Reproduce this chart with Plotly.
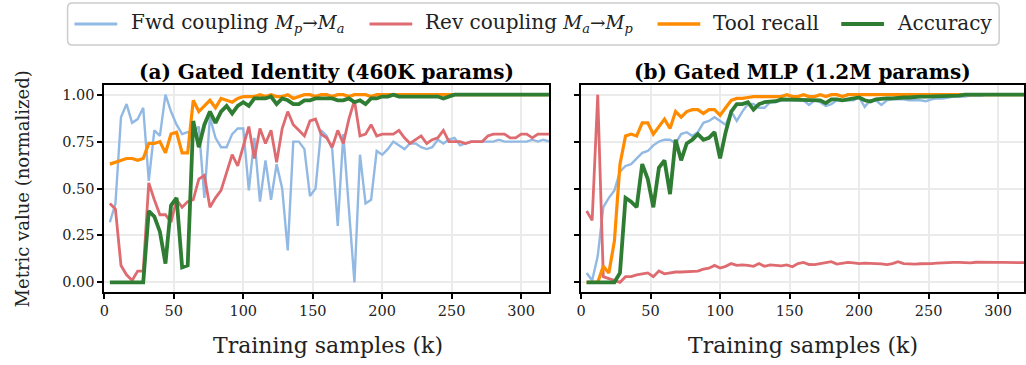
import plotly.graph_objects as go

x_k = list(range(4, 321, 4))

# Panel (a) Gated Identity
a_fwd = [0.32, 0.42, 0.88, 0.95, 0.85, 0.87, 0.93, 0.54, 0.81, 0.78,
         1.00, 0.91, 0.84, 0.79, 0.80, 0.80, 0.83, 0.45, 0.88, 0.77,
         0.72, 0.72, 0.79, 0.82, 0.82, 0.49, 0.77, 0.43, 0.65, 0.44,
         0.63, 0.50, 0.17, 0.75, 0.75, 0.71, 0.46, 0.50, 0.81, 0.78,
         0.71, 0.30, 0.79, 0.40, 0.00, 0.68, 0.42, 0.44, 0.70, 0.68,
         0.71, 0.75, 0.73, 0.71, 0.74, 0.74, 0.72, 0.71, 0.72, 0.76,
         0.74, 0.76, 0.77, 0.73, 0.74, 0.75, 0.75, 0.75, 0.75, 0.75,
         0.76, 0.75, 0.75, 0.75, 0.75, 0.75, 0.76, 0.75, 0.76, 0.75]
a_rev = [0.42, 0.39, 0.09, 0.04, 0.01, 0.06, 0.06, 0.53, 0.44, 0.36,
         0.36, 0.32, 0.44, 0.40, 0.43, 0.44, 0.55, 0.57, 0.40, 0.45,
         0.49, 0.58, 0.68, 0.62, 0.72, 0.83, 0.66, 0.82, 0.74, 0.81,
         0.64, 0.82, 0.91, 0.84, 0.81, 0.78, 0.86, 0.87, 0.79, 0.77,
         0.72, 0.81, 0.74, 0.87, 0.97, 0.78, 0.79, 0.84, 0.78, 0.79,
         0.79, 0.79, 0.81, 0.77, 0.74, 0.76, 0.78, 0.74, 0.76, 0.77,
         0.81, 0.75, 0.75, 0.75, 0.74, 0.75, 0.75, 0.75, 0.78, 0.79,
         0.79, 0.79, 0.77, 0.77, 0.79, 0.79, 0.77, 0.79, 0.79, 0.79]
a_recall = [0.63, 0.64, 0.65, 0.66, 0.66, 0.65, 0.66, 0.74, 0.74, 0.75,
            0.69, 0.79, 0.80, 0.69, 0.69, 0.97, 0.91, 0.94, 0.97, 0.93,
            0.98, 0.97, 0.96, 0.98, 0.99, 0.99, 0.99, 1.00, 0.99, 1.00,
            0.99, 0.99, 1.00, 0.98, 0.99, 1.00, 1.00, 0.99, 1.00, 1.00,
            0.99, 1.00, 1.00, 0.99, 1.00, 1.00, 1.00, 0.99, 1.00, 1.00,
            1.00, 1.00, 1.00, 1.00, 1.00, 1.00, 1.00, 1.00, 1.00, 1.00,
            1.00, 1.00, 1.00, 1.00, 1.00, 1.00, 1.00, 1.00, 1.00, 1.00,
            1.00, 1.00, 1.00, 1.00, 1.00, 1.00, 1.00, 1.00, 1.00, 1.00]
a_acc = [0.00, 0.00, 0.00, 0.00, 0.00, 0.00, 0.00, 0.38, 0.35, 0.27,
         0.10, 0.41, 0.45, 0.08, 0.09, 0.86, 0.72, 0.84, 0.91, 0.85,
         0.91, 0.94, 0.90, 0.94, 0.96, 0.94, 0.98, 0.98, 0.98, 0.99,
         0.95, 0.98, 0.97, 0.95, 0.95, 0.97, 0.97, 0.98, 0.98, 0.98,
         0.98, 0.97, 0.97, 0.98, 0.96, 0.97, 0.95, 0.98, 0.98, 0.99,
         0.99, 1.00, 0.99, 0.99, 0.99, 0.99, 0.99, 0.99, 0.99, 0.99,
         0.98, 0.99, 1.00, 1.00, 1.00, 1.00, 1.00, 1.00, 1.00, 1.00,
         1.00, 1.00, 1.00, 1.00, 1.00, 1.00, 1.00, 1.00, 1.00, 1.00]

# Panel (b) Gated MLP
b_fwd = [0.05, 0.01, 0.14, 0.40, 0.45, 0.49, 0.59, 0.62, 0.63, 0.66,
         0.69, 0.70, 0.73, 0.75, 0.76, 0.76, 0.74, 0.79, 0.80, 0.78,
         0.80, 0.85, 0.86, 0.88, 0.86, 0.84, 0.91, 0.86, 0.91, 0.95,
         0.95, 0.93, 0.93, 0.96, 0.96, 0.97, 0.97, 0.97, 0.97, 0.97,
         0.945, 0.97, 0.96, 0.94, 0.95, 0.97, 0.97, 0.97, 0.97, 0.985,
         0.935, 0.97, 0.97, 0.945, 0.97, 0.975, 0.975, 0.975, 0.97, 0.97,
         0.97, 0.965, 0.975, 0.98, 0.98, 0.985, 0.99, 0.99, 0.99, 0.995,
         0.995, 0.995, 1.00, 1.00, 1.00, 1.00, 1.00, 1.00, 1.00, 1.00]
b_rev = [0.38, 0.33, 1.00, 0.03, 0.02, 0.01, 0.00, 0.03, 0.03, 0.04,
         0.045, 0.05, 0.03, 0.06, 0.045, 0.05, 0.055, 0.055, 0.057, 0.06,
         0.06, 0.07, 0.075, 0.09, 0.076, 0.085, 0.10, 0.09, 0.093, 0.09,
         0.085, 0.10, 0.085, 0.093, 0.09, 0.088, 0.093, 0.083, 0.10, 0.106,
         0.095, 0.094, 0.10, 0.103, 0.11, 0.097, 0.10, 0.106, 0.104, 0.10,
         0.102, 0.103, 0.10, 0.098, 0.094, 0.10, 0.11, 0.10, 0.098, 0.097,
         0.099, 0.098, 0.10, 0.102, 0.104, 0.105, 0.106, 0.106, 0.104, 0.104,
         0.107, 0.106, 0.104, 0.105, 0.106, 0.106, 0.106, 0.104, 0.105, 0.105]
b_recall = [0.00, 0.00, 0.00, 0.085, 0.05, 0.22, 0.63, 0.78, 0.79, 0.78,
            0.85, 0.85, 0.79, 0.83, 0.87, 0.82, 0.91, 0.88, 0.91, 0.92,
            0.92, 0.90, 0.92, 0.92, 0.89, 0.93, 0.97, 0.98, 0.98, 0.985,
            0.99, 0.99, 0.99, 0.99, 0.99, 0.99, 1.00, 0.99, 0.99, 1.00,
            0.99, 0.99, 1.00, 0.99, 1.00, 1.00, 0.99, 1.00, 1.00, 1.00,
            1.00, 1.00, 1.00, 1.00, 1.00, 1.00, 1.00, 1.00, 1.00, 1.00,
            1.00, 1.00, 1.00, 1.00, 1.00, 1.00, 1.00, 1.00, 1.00, 1.00,
            1.00, 1.00, 1.00, 1.00, 1.00, 1.00, 1.00, 1.00, 1.00, 1.00]
b_acc = [0.00, 0.00, 0.00, 0.00, 0.00, 0.00, 0.05, 0.45, 0.43, 0.40,
         0.63, 0.55, 0.40, 0.61, 0.65, 0.47, 0.76, 0.65, 0.74, 0.76,
         0.79, 0.76, 0.77, 0.80, 0.66, 0.80, 0.91, 0.95, 0.95, 0.96,
         0.92, 0.95, 0.96, 0.96, 0.965, 0.975, 0.975, 0.975, 0.975, 0.97,
         0.975, 0.975, 0.97, 0.955, 0.975, 0.975, 0.97, 0.975, 0.98, 0.985,
         0.97, 0.963, 0.975, 0.98, 0.98, 0.98, 0.985, 0.985, 0.985, 0.99,
         0.99, 0.99, 0.99, 0.99, 0.995, 0.995, 0.995, 0.995, 1.00, 1.00,
         1.00, 1.00, 1.00, 1.00, 1.00, 1.00, 1.00, 1.00, 1.00, 1.00]

MATH = '<span style="font-size:18.5px">{}</span>'
series_names = ["Fwd coupling " + MATH.format("<i>M</i><sub><i>p</i></sub>→<i>M</i><sub><i>a</i></sub>"),
                "Rev coupling " + MATH.format("<i>M</i><sub><i>a</i></sub>→<i>M</i><sub><i>p</i></sub>"),
                "Tool recall", "Accuracy"]
colors = ["#92b9e3", "#de6b70", "#ff8c00", "#2e7d32"]
widths = [2.4, 2.8, 3.2, 3.8]
panel_titles = ["<b>(a) Gated Identity (460K params)</b>", "<b>(b) Gated MLP (1.2M params)</b>"]
x_ticks = [0, 50, 100, 150, 200, 250, 300]
y_ticks = [0, 0.25, 0.5, 0.75, 1.0]

FONT = "DejaVu Serif"
W, H = 1026, 365


def px(x):
    return x / W


def py(y):
    return 1 - y / H


fig = go.Figure()

panels = [(a_fwd, a_rev, a_recall, a_acc), (b_fwd, b_rev, b_recall, b_acc)]
for pi, data in enumerate(panels):
    xa = "x" if pi == 0 else "x2"
    ya = "y" if pi == 0 else "y2"
    for si, vals in enumerate(data):
        fig.add_trace(go.Scatter(
            x=x_k, y=vals, mode="lines", name=series_names[si],
            line=dict(color=colors[si], width=widths[si]),
            xaxis=xa, yaxis=ya, showlegend=False))

ydom = [py(291.7), py(85.3)]
axis_common = dict(showline=True, linecolor="black", linewidth=1.8, mirror=True,
                   ticks="outside", ticklen=5, tickwidth=1.5, tickcolor="black",
                   showgrid=True, gridcolor="#ebebeb", gridwidth=1.5, zeroline=False,
                   tickfont=dict(family=FONT, size=14.5, color="#222"))
fig.update_layout(
    width=W, height=H, margin=dict(l=0, r=0, t=0, b=0),
    paper_bgcolor="white", plot_bgcolor="white",
    xaxis=dict(domain=[px(100), px(547.7)], range=[0, 320], tickvals=x_ticks, anchor="y", **axis_common),
    yaxis=dict(domain=ydom, range=[-0.05, 1.05], tickvals=y_ticks, tickformat=".2f", anchor="x", **axis_common),
    xaxis2=dict(domain=[px(580), 1.0], range=[0, (W - 580) / 1.4], tickvals=x_ticks, anchor="y2", **axis_common),
    yaxis2=dict(domain=ydom, range=[-0.05, 1.05], tickvals=y_ticks, showticklabels=False, anchor="x2", **axis_common),
    showlegend=False,
)

shapes = []
for ax in ["x", "x2"]:
    yref = "y" if ax == "x" else "y2"
    shapes.append(dict(type="line", xref=ax + " domain", yref=yref, x0=0, x1=1, y0=0, y1=0,
                       line=dict(color="#bdbdbd", width=1.5, dash="dash"), layer="below"))

# Legend frame (rounded rectangle) drawn in paper coordinates
L, R, T, B, r = 63, 1001, 3, 45, 5
path = (f"M {px(L + r)},{py(T)} L {px(R - r)},{py(T)} Q {px(R)},{py(T)} {px(R)},{py(T + r)} "
        f"L {px(R)},{py(B - r)} Q {px(R)},{py(B)} {px(R - r)},{py(B)} "
        f"L {px(L + r)},{py(B)} Q {px(L)},{py(B)} {px(L)},{py(B - r)} "
        f"L {px(L)},{py(T + r)} Q {px(L)},{py(T)} {px(L + r)},{py(T)} Z")
shapes.append(dict(type="path", xref="paper", yref="paper", path=path,
                   line=dict(color="#cccccc", width=1.5), fillcolor="white"))

legend_line_x = [(70, 113), (367, 410), (657, 700), (842, 885)]
legend_text_x = [125, 421, 711, 896]
legend_y = 24
anns = []
for si in range(4):
    x0, x1 = legend_line_x[si]
    shapes.append(dict(type="line", xref="paper", yref="paper", x0=px(x0), x1=px(x1),
                       y0=py(legend_y), y1=py(legend_y),
                       line=dict(color=colors[si], width=widths[si] + 0.4)))
    anns.append(dict(text=series_names[si], x=px(legend_text_x[si]), y=py(legend_y - 1),
                     xref="paper", yref="paper", xanchor="left", yanchor="middle",
                     showarrow=False, font=dict(family=FONT, size=20, color="#222")))
fig.update_layout(shapes=shapes)

for cx, t in zip([323.8, 803], panel_titles):
    anns.append(dict(text=t, x=px(cx), y=py(72), xref="paper", yref="paper",
                     xanchor="center", yanchor="middle",
                     showarrow=False, font=dict(family=FONT, size=20, color="black")))
for cx in [325, 803]:
    anns.append(dict(text="Training samples (k)", x=px(cx), y=py(345), xref="paper", yref="paper",
                     xanchor="center", yanchor="middle",
                     showarrow=False, font=dict(family=FONT, size=22, color="#222")))
anns.append(dict(text="Metric value (normalized)", x=px(18), y=py(188.5), xref="paper", yref="paper",
                 xanchor="center", yanchor="middle",
                 showarrow=False, textangle=-90, font=dict(family=FONT, size=18, color="#222")))
fig.update_layout(annotations=anns)

fig.write_html("out.html")
